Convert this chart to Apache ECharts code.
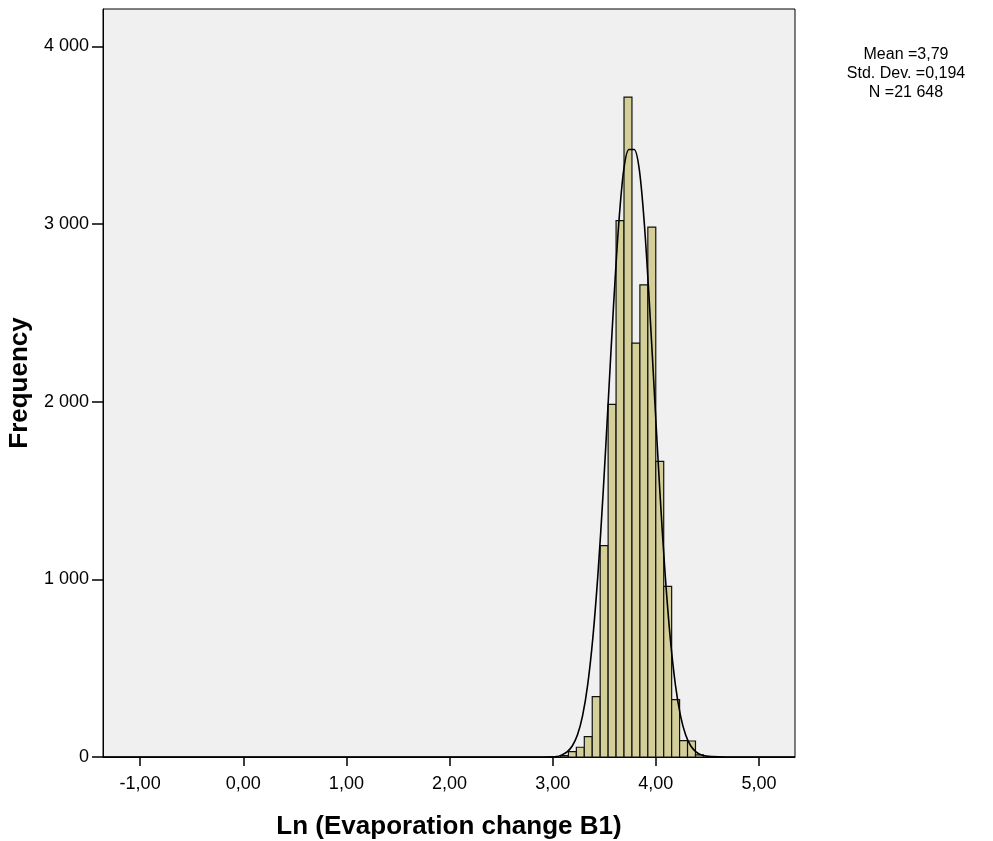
<!DOCTYPE html>
<html>
<head>
<meta charset="utf-8">
<script src="https://cdn.jsdelivr.net/npm/echarts@6/dist/echarts.min.js"></script>
<style>
  html, body { margin: 0; padding: 0; background: #fff; }
  #chart { width: 993px; height: 841px; }
</style>
</head>
<body>
<div id="chart"></div>
<script>
// histogram bins (edges on the x scale) and counts
const binEdges = [3.076, 3.153, 3.230, 3.307, 3.384, 3.461, 3.538, 3.615, 3.692, 3.769,
  3.846, 3.923, 4.000, 4.077, 4.154, 4.231, 4.308, 4.385, 4.462]
const binCounts = [8, 30, 55, 115, 340, 1190, 1985, 3020, 3715, 2330,
  2658, 2983, 1664, 961, 323, 92, 90, 12]

// fitted normal curve
const curveX = [-1.36, 2.4, 2.9, 3.04, 3.09, 3.14, 3.19, 3.24, 3.29, 3.34, 3.39, 3.44, 3.49, 3.54,
  3.59, 3.64, 3.69, 3.74, 3.79, 3.84, 3.89, 3.94, 3.99, 4.04, 4.09, 4.14, 4.19, 4.24, 4.29,
  4.34, 4.39, 4.44, 4.49, 4.54, 4.68, 5.35]
const curveY = [0, 0, 0, 2, 12, 29, 62, 124, 232, 408, 672, 1035, 1491, 2011,
  2536, 2995, 3308, 3420, 3420, 3308, 2995, 2536, 2011, 1491, 1035, 672, 408, 232, 124,
  62, 29, 12, 5, 2, 0, 0]

const xTicks = [-1, 0, 1, 2, 3, 4, 5]
const yTicks = [0, 1000, 2000, 3000, 4000]
const statLines = ['Mean =3,79', 'Std. Dev. =0,194', 'N =21 648']

const font = 'Liberation Sans, Arial, sans-serif'
const barFill = '#d4cf98'

const chart = echarts.init(document.getElementById('chart'))

const barData = binCounts.map((c, i) => [binEdges[i], binEdges[i + 1], c])

chart.setOption({
  animation: false,
  backgroundColor: '#ffffff',
  grid: {
    left: 103, right: 198, top: 9, bottom: 84,
    outerBoundsMode: 'none',
    containLabel: false,
    show: true,
    backgroundColor: '#f0f0f0',
    borderColor: '#000',
    borderWidth: 1
  },
  xAxis: {
    type: 'value',
    min: -1.36,
    max: 5.35,
    name: 'Ln (Evaporation change B1)',
    nameLocation: 'middle',
    nameGap: 57,
    nameTextStyle: { fontFamily: font, fontWeight: 'bold', fontSize: 26, color: '#000' },
    axisLine: { show: true, onZero: false, lineStyle: { color: '#000', width: 1 } },
    axisTick: { show: true, length: 9, customValues: xTicks, lineStyle: { color: '#000', width: 1.5 } },
    axisLabel: {
      customValues: xTicks,
      margin: 18,
      fontFamily: font, fontSize: 18, color: '#000',
      formatter: (v) => v.toFixed(2).replace('.', ',')
    },
    splitLine: { show: false }
  },
  yAxis: {
    type: 'value',
    min: 0,
    max: 4211,
    name: 'Frequency',
    nameLocation: 'middle',
    nameGap: 68,
    nameTextStyle: { fontFamily: font, fontWeight: 'bold', fontSize: 26, color: '#000' },
    axisLine: { show: true, onZero: false, lineStyle: { color: '#000', width: 1 } },
    axisTick: { show: true, length: 11, customValues: yTicks, lineStyle: { color: '#000', width: 1.5 } },
    axisLabel: {
      customValues: yTicks,
      margin: 14,
      fontFamily: font, fontSize: 18, color: '#000',
      formatter: (v) => (v === 0 ? '0' : (v / 1000) + ' 000')
    },
    splitLine: { show: false }
  },
  graphic: [{
    type: 'text',
    x: 906,
    y: 45,
    style: {
      text: statLines.join('\n'),
      font: '16px ' + font,
      fill: '#000',
      align: 'center',
      textAlign: 'center',
      lineHeight: 19
    }
  }],
  series: [
    {
      type: 'custom',
      name: 'bins',
      data: barData,
      encode: { x: [0, 1], y: 2 },
      renderItem: (params, api) => {
        const top = api.coord([api.value(0), api.value(2)])
        const base = api.coord([api.value(1), 0])
        return {
          type: 'rect',
          shape: { x: top[0], y: top[1], width: base[0] - top[0], height: base[1] - top[1] },
          style: { fill: barFill, stroke: '#111', lineWidth: 1.2 }
        }
      }
    },
    {
      type: 'line',
      name: 'normal',
      data: curveX.map((x, i) => [x, curveY[i]]),
      smooth: 0.3,
      showSymbol: false,
      lineStyle: { color: '#000', width: 1.6 },
      z: 5
    }
  ]
})
</script>
</body>
</html>
